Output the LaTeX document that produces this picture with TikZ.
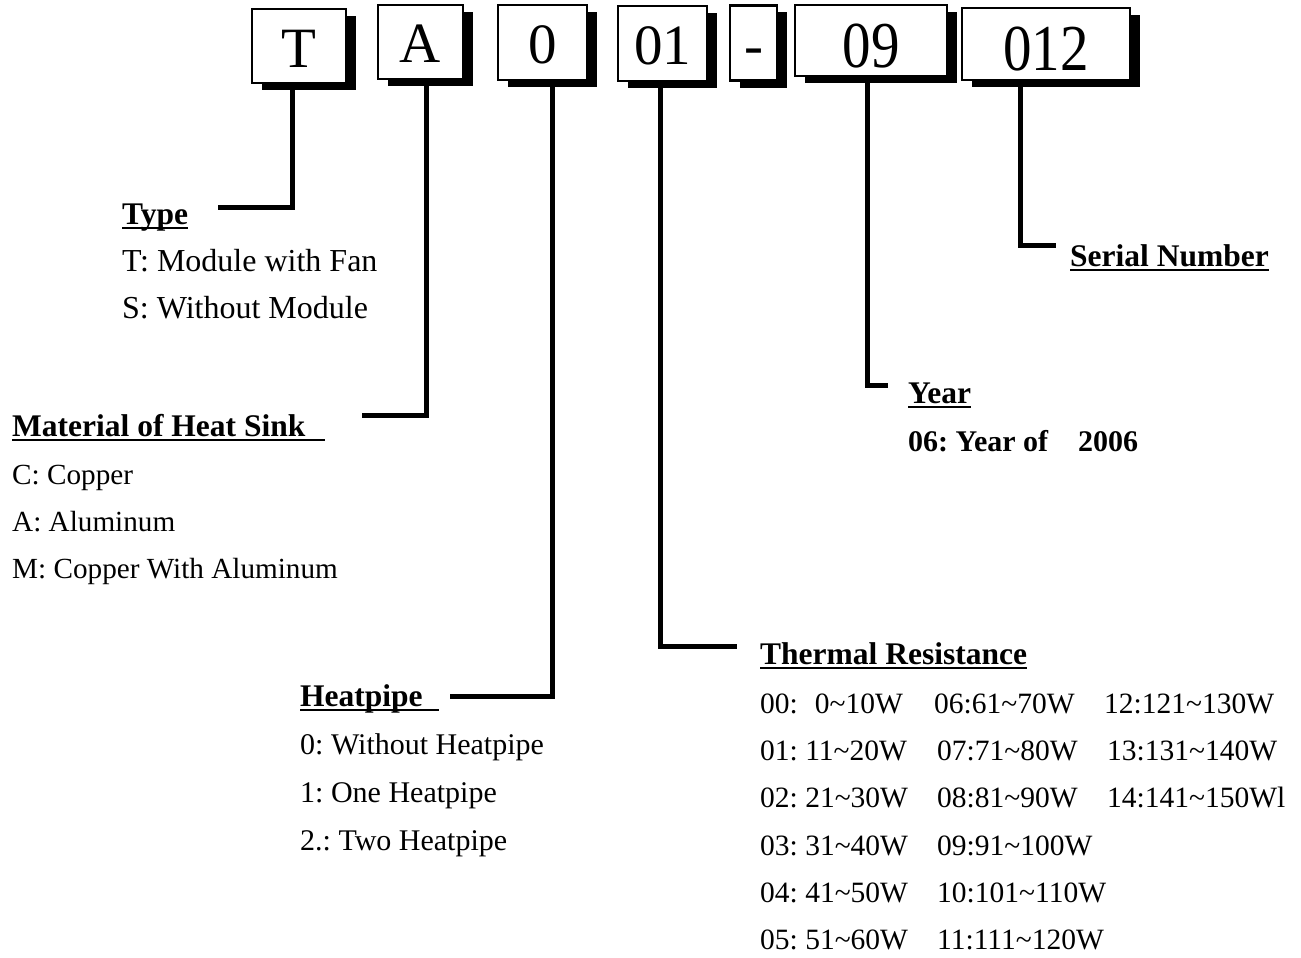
\documentclass[tikz,border=0pt]{standalone}
\usepackage{fontspec}
\usepackage{graphicx}
\setmainfont{Liberation Serif}
\usetikzlibrary{shadows}
\begin{document}
\frenchspacing
\begin{tikzpicture}[x=1pt,y=-1pt,
  codebox/.style={draw=black, line width=2.5pt, fill=white, inner sep=0pt,
    drop shadow={shadow xshift=10pt, shadow yshift=-7pt, fill=black, opacity=1},
    font=\fontsize{57}{60}\selectfont, text depth=0pt, text height=42pt},
  tallbox/.style={codebox, text height=53pt},
  conn/.style={line width=5pt, black},
  txt/.style={anchor=base west, inner sep=0pt, font=\fontsize{30}{36}\selectfont},
  bigtxt/.style={txt, font=\fontsize{32}{36}\selectfont},
  smalltxt/.style={txt, font=\fontsize{29.5}{36}\selectfont},
  mattxt/.style={txt, font=\fontsize{29.2}{36}\selectfont},
  head/.style={anchor=base west, inner sep=0pt, font=\fontsize{31.5}{36}\selectfont\bfseries},
  uline/.style={line width=2.5pt}]
\useasboundingbox (0,0) rectangle (1301,958);
% code boxes
\node[codebox, minimum width=94pt, minimum height=74pt] (bT) at (299,46) {T};
\node[codebox, minimum width=85pt, minimum height=74pt] (bA) at (420.5,42) {A};
\node[codebox, minimum width=89pt, minimum height=75pt] (bZ) at (542.5,42.5) {0};
\node[codebox, minimum width=89pt, minimum height=75pt] (bR) at (662.5,43.5) {01};
\node[codebox, minimum width=47pt, minimum height=75pt] (bD) at (753.5,43) {-};
\node[tallbox, minimum width=152pt, minimum height=71pt] (bY) at (871,40.5) {\scalebox{1}[1.15]{09}};
\node[tallbox, minimum width=168pt, minimum height=72pt] (bS) at (1046,44) {\scalebox{1}[1.15]{012}};
% connector ends
\coordinate (eT) at (218,207);
\coordinate (eA) at (362,415);
\coordinate (eZ) at (450,696);
\coordinate (eR) at (737,646);
\coordinate (eY) at (888,385);
\coordinate (eS) at (1056,245);
\draw[conn] ([xshift=-7pt]bT.south) |- (eT);
\draw[conn] ([xshift=5.5pt]bA.south) |- (eA);
\draw[conn] ([xshift=9.5pt]bZ.south) |- (eZ);
\draw[conn] ([xshift=-2.5pt]bR.south) |- (eR);
\draw[conn] ([xshift=-4pt]bY.south) |- (eY);
\draw[conn] ([xshift=-26pt]bS.south) |- (eS);
% Type
\node[head] (hType) at (122,224) {Type};
\draw[uline] ([yshift=-4pt]hType.base west) -- ([yshift=-4pt]hType.base east);
\node[bigtxt] (t1) at (122,271) {T: Module with Fan};
\node[bigtxt] (t2) at (122,318) {S: Without Module};
% Material
\node[head] (hMat) at (12,436) {Material of Heat Sink};
\draw[uline] ([yshift=-4pt]hMat.base west) -- ([xshift=20pt,yshift=-4pt]hMat.base east);
\node[mattxt] (m1) at (12,484) {C: Copper};
\node[mattxt] (m2) at (12,531) {A: Aluminum};
\node[mattxt] (m3) at (12,578) {M: Copper With Aluminum};
% Heatpipe
\node[head] (hHp) at (300,706) {Heatpipe};
\draw[uline] ([yshift=-4pt]hHp.base west) -- ([xshift=16pt,yshift=-4pt]hHp.base east);
\node[txt] (p1) at (300,754) {0: Without Heatpipe};
\node[txt] (p2) at (300,802) {1: One Heatpipe};
\node[txt] (p3) at (300,850) {2.: Two Heatpipe};
% Thermal Resistance
\node[head] (hTh) at (760,664) {Thermal Resistance};
\draw[uline] ([yshift=-4pt]hTh.base west) -- ([yshift=-4pt]hTh.base east);
\node[smalltxt] (r00) at (760,713) {00:\hspace{17pt}0\textasciitilde 10W};
\node[smalltxt] (r01) at (760,760) {01: 11\textasciitilde 20W};
\node[smalltxt] (r02) at (760,807) {02: 21\textasciitilde 30W};
\node[smalltxt] (r03) at (760,855) {03: 31\textasciitilde 40W};
\node[smalltxt] (r04) at (760,902) {04: 41\textasciitilde 50W};
\node[smalltxt] (r05) at (760,949) {05: 51\textasciitilde 60W};
\node[smalltxt] (r06) at (934,713) {06:61\textasciitilde 70W};
\node[smalltxt] (r07) at (937,760) {07:71\textasciitilde 80W};
\node[smalltxt] (r08) at (937,807) {08:81\textasciitilde 90W};
\node[smalltxt] (r09) at (937,855) {09:91\textasciitilde 100W};
\node[smalltxt] (r10) at (937,902) {10:101\textasciitilde 110W};
\node[smalltxt] (r11) at (937,949) {11:111\textasciitilde 120W};
\node[smalltxt] (r12) at (1104,713) {12:121\textasciitilde 130W};
\node[smalltxt] (r13) at (1107,760) {13:131\textasciitilde 140W};
\node[smalltxt] (r14) at (1107,807) {14:141\textasciitilde 150Wl};
% Year
\node[head] (hYear) at (908,403) {Year};
\draw[uline] ([yshift=-4pt]hYear.base west) -- ([yshift=-4pt]hYear.base east);
\node[txt, font=\fontsize{30}{36}\selectfont\bfseries] (y1) at (908,451) {06: Year of\hspace{30pt}2006};
% Serial Number
\node[head] (hSer) at (1070,266) {Serial Number};
\draw[uline] ([yshift=-4pt]hSer.base west) -- ([yshift=-4pt]hSer.base east);
\end{tikzpicture}
\end{document}
